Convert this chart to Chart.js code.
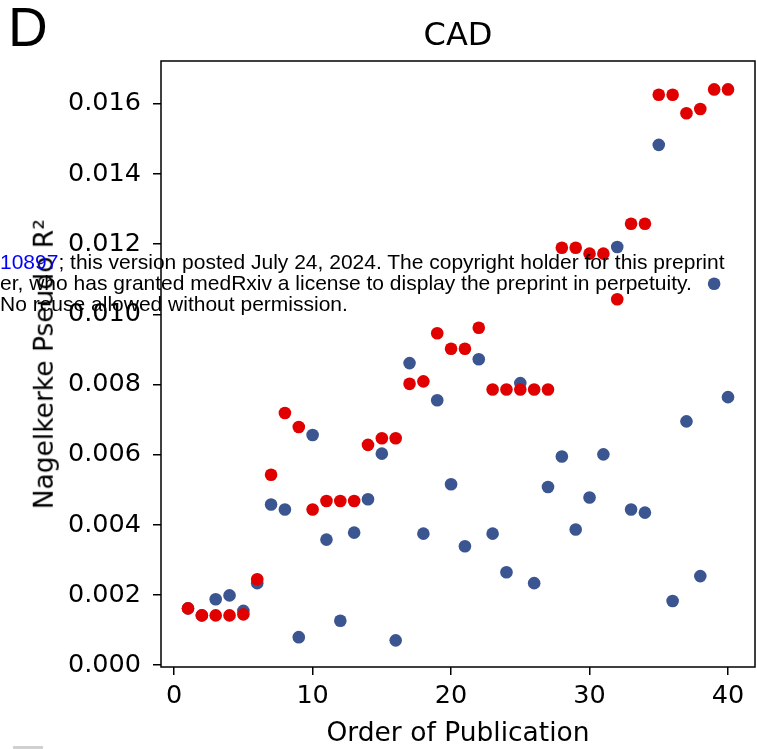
<!DOCTYPE html>
<html>
<head>
<meta charset="utf-8">
<script src="https://cdn.jsdelivr.net/npm/chart.js@4.4.0/dist/chart.umd.min.js"></script>
<style>
  body { margin: 0; background: #fff; }
  #wrap { position: relative; width: 757px; height: 749px; overflow: hidden; }
  .txt { position: absolute; white-space: nowrap; line-height: 1; color: #000; }
  .dv { font-family: "DejaVu Sans", sans-serif; }
  .lib { font-family: "Liberation Sans", Arial, sans-serif; }
</style>
</head>
<body>
<div id="wrap">
  <canvas id="chart" width="757" height="749"></canvas>
  <div class="txt lib" style="left:8px; top:0px; font-size:55px;">D</div>
  <div class="txt dv" style="left:358px; width:200px; text-align:center; top:18px; font-size:32px;">CAD</div>
  <div class="txt dv" style="left:258px; width:400px; text-align:center; top:719px; font-size:26.5px;">Order of Publication</div>
  <div class="txt dv" style="left:-156px; width:400px; text-align:center; top:351px; font-size:26.5px; transform:rotate(-90deg);">Nagelkerke Pseudo R²</div>
  <div class="txt lib" style="left:0px; top:250.5px; font-size:21px; line-height:21.2px;">
    <span style="color:#0000ff;">10897</span>; this version posted July 24, 2024. The copyright holder for this preprint<br>
    er, who has granted medRxiv a license to display the preprint in perpetuity.<br>
    No reuse allowed without permission.
  </div>
  <div style="position:absolute; left:13px; top:746px; width:30px; height:3px; background:#d0d0d0;"></div>
</div>
<script>
// order of publication (x) for both series
const order = [1,2,3,4,5,6,7,8,9,10,11,12,13,14,15,16,17,18,19,20,
               21,22,23,24,25,26,27,28,29,30,31,32,33,34,35,36,37,38,39,40];

// blue points: R2 of each individual study
const blueValues = [0.00162,0.00142,0.00188,0.00199,0.00155,0.00234,0.00458,0.00444,0.00080,0.00656,
                    0.00358,0.00127,0.00378,0.00473,0.00603,0.00071,0.00861,0.00375,0.00755,0.00516,
                    0.00339,0.00872,0.00375,0.00265,0.00804,0.00234,0.00508,0.00595,0.00387,0.00478,
                    0.00601,0.01192,0.00444,0.00435,0.01483,0.00183,0.00695,0.00254,0.01087,0.00764];

// red points: best R2 so far
const redValues = [0.00162,0.00142,0.00142,0.00142,0.00145,0.00245,0.00543,0.00719,0.00679,0.00444,
                   0.00468,0.00468,0.00468,0.00628,0.00647,0.00647,0.00802,0.00809,0.00946,0.00902,
                   0.00902,0.00962,0.00786,0.00786,0.00786,0.00786,0.00786,0.01190,0.01190,0.01173,
                   0.01173,0.01043,0.01258,0.01258,0.01626,0.01626,0.01573,0.01585,0.01641,0.01641];

const xTicks = [0, 10, 20, 30, 40];
const yTicks = [0, 0.002, 0.004, 0.006, 0.008, 0.010, 0.012, 0.014, 0.016];

const toPoints = vals => vals.map((v, i) => ({ x: order[i], y: v }));

// draw the box around the plot area
const frame = {
  id: 'frame',
  afterDatasetsDraw(chart) {
    const a = chart.chartArea;
    const ctx = chart.ctx;
    ctx.save();
    ctx.strokeStyle = '#000';
    ctx.lineWidth = 1.5;
    ctx.strokeRect(a.left, a.top, a.right - a.left, a.bottom - a.top);
    ctx.restore();
  }
};

const tickFont = { family: 'DejaVu Sans', size: 25.5 };

new Chart(document.getElementById('chart'), {
  type: 'scatter',
  data: {
    datasets: [
      {
        label: 'best',
        data: toPoints(redValues),
        backgroundColor: '#e00000',
        borderColor: '#e00000',
        borderWidth: 0,
        pointRadius: 6.3,
        order: 0
      },
      {
        label: 'study',
        data: toPoints(blueValues),
        backgroundColor: '#3b5591',
        borderColor: '#3b5591',
        borderWidth: 0,
        pointRadius: 6.3,
        order: 1
      }
    ]
  },
  options: {
    responsive: false,
    animation: false,
    // autoPadding off, otherwise the point radius eats into the right edge
    layout: { autoPadding: false, padding: { top: 61, right: 2, left: 0, bottom: 0 } },
    plugins: { legend: { display: false }, tooltip: { enabled: false } },
    scales: {
      x: {
        type: 'linear',
        min: -0.95,
        max: 41.95,
        afterBuildTicks: s => { s.ticks = xTicks.map(v => ({ value: v })); },
        afterFit: s => { s.height = 82; s.paddingLeft = 0; s.paddingRight = 0; },
        grid: { drawOnChartArea: false, drawTicks: true, tickLength: 8, color: '#000', lineWidth: 1.5 },
        border: { display: false },
        ticks: { color: '#000', font: tickFont, padding: 6, maxRotation: 0, callback: v => String(v) }
      },
      y: {
        type: 'linear',
        min: -0.00005,
        max: 0.01722,
        afterBuildTicks: s => { s.ticks = yTicks.map(v => ({ value: v })); },
        afterFit: s => { s.width = 161; s.paddingTop = 0; s.paddingBottom = 0; },
        grid: { drawOnChartArea: false, drawTicks: true, tickLength: 8, color: '#000', lineWidth: 1.5 },
        border: { display: false },
        ticks: { color: '#000', font: tickFont, padding: 12, callback: v => v.toFixed(3) }
      }
    }
  },
  plugins: [frame]
});
</script>
</body>
</html>
